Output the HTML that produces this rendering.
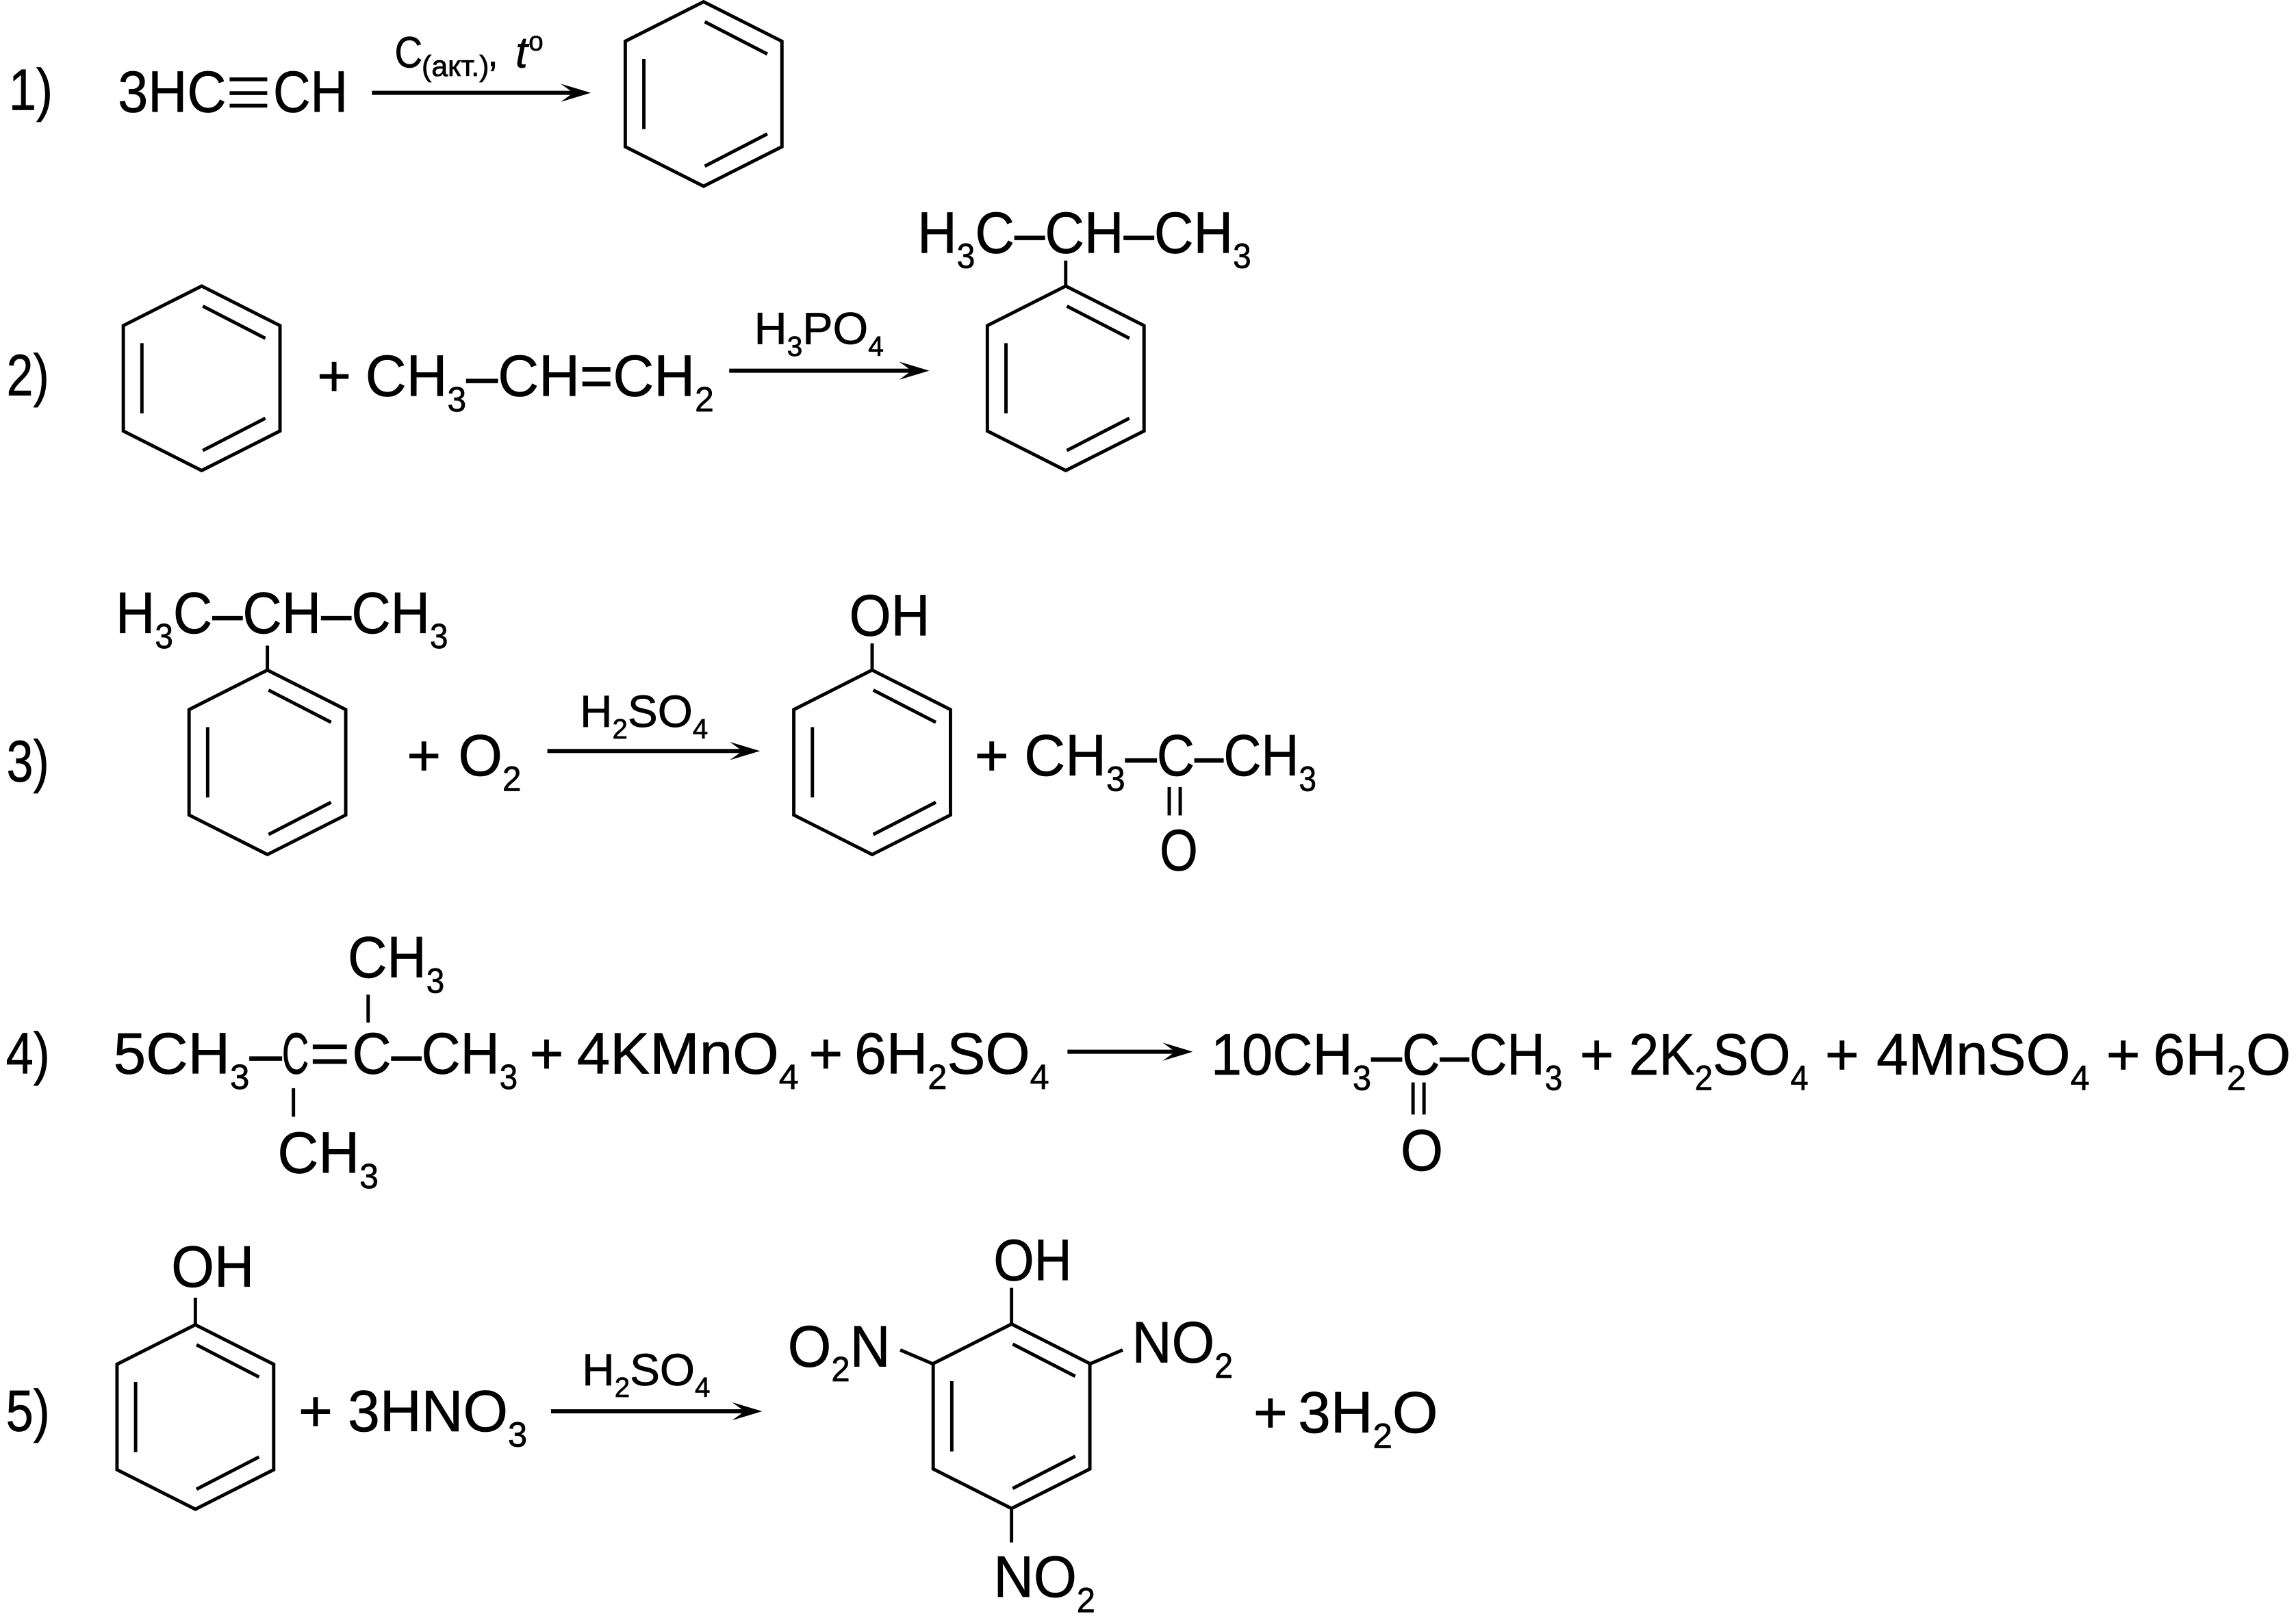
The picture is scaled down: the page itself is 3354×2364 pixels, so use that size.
<!DOCTYPE html>
<html>
<head>
<meta charset="utf-8">
<style>
  html, body { margin: 0; padding: 0; background: #ffffff; }
  svg { display: block; }
  text { font-family: "Liberation Sans", "DejaVu Sans", sans-serif; fill: #000; stroke: #000; stroke-width: 0.35px; }
  .m { font-size: 40px; }
  .s { font-size: 31px; }
</style>
</head>
<body>
<svg xmlns="http://www.w3.org/2000/svg" width="3354" height="2364" viewBox="0 0 1568 1105.2">
  <defs>
    <g id="bz" fill="none" stroke="#000" stroke-width="2.3" stroke-linejoin="miter">
      <polygon points="0,-63 53.5,-36 53.5,36 0,63 -53.5,36 -53.5,-36"/>
      <line x1="0.8" y1="-49.3" x2="43.5" y2="-27.3"/>
      <line x1="0.8" y1="49.3" x2="43.5" y2="27.3"/>
      <line x1="-40.8" y1="-24" x2="-40.8" y2="24"/>
    </g>
  </defs>
  <rect x="0" y="0" width="1568" height="1105.2" fill="#fff"/>

  <g stroke="#000" stroke-width="2.8" fill="none">
    <line x1="254" y1="63.4" x2="392" y2="63.4"/>
    <line x1="498" y1="253.2" x2="623" y2="253.2"/>
    <line x1="373.8" y1="513" x2="507.5" y2="513"/>
    <line x1="729" y1="718.4" x2="803" y2="718.4"/>
    <line x1="376.3" y1="964" x2="509" y2="964"/>
  </g>
  <g fill="#000">
    <path d="M403.5,63.4 L382.9,57.2 L391.5,63.4 L382.9,69.6 Z"/>
    <path d="M634.6,253.2 L614,247 L622.6,253.2 L614,259.4 Z"/>
    <path d="M519,513 L498.4,506.8 L507,513 L498.4,519.2 Z"/>
    <path d="M814.6,718.4 L794,712.2 L802.6,718.4 L794,724.6 Z"/>
    <path d="M520.5,964 L499.9,957.8 L508.5,964 L499.9,970.2 Z"/>
  </g>

  <use href="#bz" x="480.5" y="64.2"/>
  <use href="#bz" x="137.7" y="258.4"/>
  <use href="#bz" x="727.8" y="258.4"/>
  <use href="#bz" x="182.6" y="520.7"/>
  <use href="#bz" x="595.6" y="520.7"/>
  <use href="#bz" x="133.4" y="967.9"/>
  <use href="#bz" x="690.8" y="967.4"/>

  <g stroke="#000" stroke-width="2.3" fill="none">
    <line x1="727.8" y1="195.4" x2="727.8" y2="178"/>
    <line x1="182.6" y1="457.7" x2="182.6" y2="441"/>
    <line x1="595.6" y1="457.7" x2="595.6" y2="439.5"/>
    <line x1="798.5" y1="537.6" x2="798.5" y2="557"/>
    <line x1="806" y1="537.6" x2="806" y2="557"/>
    <line x1="200.4" y1="743.3" x2="200.4" y2="762.8"/>
    <line x1="251.4" y1="679.4" x2="251.4" y2="698.5"/>
    <line x1="965" y1="739.4" x2="965" y2="761.3"/>
    <line x1="972.5" y1="739.4" x2="972.5" y2="761.3"/>
    <line x1="133.4" y1="904.9" x2="133.4" y2="886.4"/>
    <line x1="690.8" y1="904.4" x2="690.8" y2="879.7"/>
    <line x1="636.6" y1="931.4" x2="614.8" y2="922.1"/>
    <line x1="744.9" y1="931.4" x2="766.7" y2="922.1"/>
    <line x1="690.8" y1="1030.4" x2="690.8" y2="1053.6"/>
  </g>
  <g fill="#000">
    <rect x="156.8" y="52.9" width="25.7" height="2.6"/>
    <rect x="156.8" y="62.3" width="25.7" height="2.6"/>
    <rect x="156.8" y="70.9" width="25.7" height="2.6"/>
  </g>

  <text class="m" x="6" y="75" textLength="30" lengthAdjust="spacingAndGlyphs">1)</text>
  <text class="m" x="80.5" y="76.4" textLength="74" lengthAdjust="spacingAndGlyphs">3HC</text>
  <text class="m" x="186.5" y="76.4" textLength="51" lengthAdjust="spacingAndGlyphs">CH</text>
  <text x="269.5" y="46" font-size="30" textLength="19" lengthAdjust="spacingAndGlyphs">C</text>
  <text x="288" y="52" font-size="20" textLength="46" lengthAdjust="spacingAndGlyphs">(акт.)</text>
  <text x="333" y="45" font-size="26">,</text>
  <text x="352" y="46" font-size="30" font-style="italic">t</text>
  <text x="361" y="34.3" font-size="18">o</text>

  <text class="m" x="4.5" y="270" textLength="29" lengthAdjust="spacingAndGlyphs">2)</text>
  <text class="m" x="228.2" y="270.4" text-anchor="middle">+</text>
  <text class="m" x="249.5" y="270.4" textLength="238" lengthAdjust="spacingAndGlyphs">CH<tspan dy="10.5" font-size="24">3</tspan><tspan dy="-10.5">–CH=CH</tspan><tspan dy="10.5" font-size="24">2</tspan></text>
  <text class="s" x="515" y="235" textLength="88.5" lengthAdjust="spacingAndGlyphs">H<tspan dy="8" font-size="19">3</tspan><tspan dy="-8">PO</tspan><tspan dy="8" font-size="19">4</tspan></text>
  <text class="m" x="626.5" y="172.7" textLength="228" lengthAdjust="spacingAndGlyphs">H<tspan dy="10.4" font-size="24">3</tspan><tspan dy="-10.4">C–CH–CH</tspan><tspan dy="10.4" font-size="24">3</tspan></text>

  <text class="m" x="4.5" y="533.7" textLength="29" lengthAdjust="spacingAndGlyphs">3)</text>
  <text class="m" x="79" y="432.4" textLength="227" lengthAdjust="spacingAndGlyphs">H<tspan dy="10.4" font-size="24">3</tspan><tspan dy="-10.4">C–CH–CH</tspan><tspan dy="10.4" font-size="24">3</tspan></text>
  <text class="m" x="289.5" y="529.8" text-anchor="middle">+</text>
  <text class="m" x="313" y="529.8" textLength="43" lengthAdjust="spacingAndGlyphs">O<tspan dy="10.5" font-size="24">2</tspan></text>
  <text class="s" x="396" y="496.4" textLength="87.5" lengthAdjust="spacingAndGlyphs">H<tspan dy="8" font-size="19">2</tspan><tspan dy="-8">SO</tspan><tspan dy="8" font-size="19">4</tspan></text>
  <text class="m" x="580" y="434" textLength="55" lengthAdjust="spacingAndGlyphs">OH</text>
  <text class="m" x="677.3" y="529.8" text-anchor="middle">+</text>
  <text class="m" x="699.5" y="529.8" textLength="90.5" lengthAdjust="spacingAndGlyphs">CH<tspan dy="10.5" font-size="24">3</tspan><tspan dy="-10.5">–</tspan></text>
  <text class="m" x="790" y="529.8" textLength="109" lengthAdjust="spacingAndGlyphs">C–CH<tspan dy="10.5" font-size="24">3</tspan></text>
  <text class="m" x="792" y="594.5" textLength="26" lengthAdjust="spacingAndGlyphs">O</text>

  <text class="m" x="4" y="733.2" textLength="30" lengthAdjust="spacingAndGlyphs">4)</text>
  <text class="m" x="77.5" y="733.2" textLength="115" lengthAdjust="spacingAndGlyphs">5CH<tspan dy="10.5" font-size="24">3</tspan><tspan dy="-10.5">–</tspan></text>
  <text class="m" x="192.5" y="733.2" textLength="18.5" lengthAdjust="spacingAndGlyphs">C</text>
  <text class="m" x="211.5" y="733.2" textLength="27.5" lengthAdjust="spacingAndGlyphs">=</text>
  <text class="m" x="240.5" y="733.2" textLength="113" lengthAdjust="spacingAndGlyphs">C–CH<tspan dy="10.5" font-size="24">3</tspan></text>
  <text class="m" x="237.5" y="667.7" textLength="66" lengthAdjust="spacingAndGlyphs">CH<tspan dy="10.5" font-size="24">3</tspan></text>
  <text class="m" x="189.5" y="801" textLength="69" lengthAdjust="spacingAndGlyphs">CH<tspan dy="10.5" font-size="24">3</tspan></text>
  <text class="m" x="373.3" y="733.2" text-anchor="middle">+</text>
  <text class="m" x="394" y="733.2" textLength="151.5" lengthAdjust="spacingAndGlyphs">4KMnO<tspan dy="10.5" font-size="24">4</tspan></text>
  <text class="m" x="564" y="733.2" text-anchor="middle">+</text>
  <text class="m" x="583.5" y="733.2" textLength="133" lengthAdjust="spacingAndGlyphs">6H<tspan dy="10.5" font-size="24">2</tspan><tspan dy="-10.5">SO</tspan><tspan dy="10.5" font-size="24">4</tspan></text>
  <text class="m" x="827" y="734" textLength="130.5" lengthAdjust="spacingAndGlyphs">10CH<tspan dy="10.5" font-size="24">3</tspan><tspan dy="-10.5">–</tspan></text>
  <text class="m" x="957.5" y="734" textLength="109.5" lengthAdjust="spacingAndGlyphs">C–CH<tspan dy="10.5" font-size="24">3</tspan></text>
  <text class="m" x="956.5" y="799.4" textLength="29" lengthAdjust="spacingAndGlyphs">O</text>
  <text class="m" x="1090.5" y="734" text-anchor="middle">+</text>
  <text class="m" x="1112.5" y="734" textLength="122.5" lengthAdjust="spacingAndGlyphs">2K<tspan dy="10.5" font-size="24">2</tspan><tspan dy="-10.5">SO</tspan><tspan dy="10.5" font-size="24">4</tspan></text>
  <text class="m" x="1258" y="734" text-anchor="middle">+</text>
  <text class="m" x="1281.5" y="734" textLength="145.5" lengthAdjust="spacingAndGlyphs">4MnSO<tspan dy="10.5" font-size="24">4</tspan></text>
  <text class="m" x="1450" y="734" text-anchor="middle">+</text>
  <text class="m" x="1470.5" y="734" textLength="94" lengthAdjust="spacingAndGlyphs">6H<tspan dy="10.5" font-size="24">2</tspan><tspan dy="-10.5">O</tspan></text>

  <text class="m" x="4" y="977.4" textLength="30" lengthAdjust="spacingAndGlyphs">5)</text>
  <text class="m" x="117" y="878.9" textLength="56.5" lengthAdjust="spacingAndGlyphs">OH</text>
  <text class="m" x="215.5" y="977.6" text-anchor="middle">+</text>
  <text class="m" x="237.5" y="977.6" textLength="122.5" lengthAdjust="spacingAndGlyphs">3HNO<tspan dy="10.5" font-size="24">3</tspan></text>
  <text class="s" x="397.5" y="946.2" textLength="87.5" lengthAdjust="spacingAndGlyphs">H<tspan dy="8" font-size="19">2</tspan><tspan dy="-8">SO</tspan><tspan dy="8" font-size="19">4</tspan></text>
  <text class="m" x="678.5" y="874.5" textLength="53.5" lengthAdjust="spacingAndGlyphs">OH</text>
  <text class="m" x="538" y="933.5" textLength="70" lengthAdjust="spacingAndGlyphs">O<tspan dy="10" font-size="24">2</tspan><tspan dy="-10">N</tspan></text>
  <text class="m" x="773" y="930.5" textLength="69" lengthAdjust="spacingAndGlyphs">NO<tspan dy="10.5" font-size="24">2</tspan></text>
  <text class="m" x="678.5" y="1090.7" textLength="69.5" lengthAdjust="spacingAndGlyphs">NO<tspan dy="10.5" font-size="24">2</tspan></text>
  <text class="m" x="867.6" y="978.5" text-anchor="middle">+</text>
  <text class="m" x="886.5" y="978.5" textLength="95.5" lengthAdjust="spacingAndGlyphs">3H<tspan dy="10.5" font-size="24">2</tspan><tspan dy="-10.5">O</tspan></text>
</svg>
</body>
</html>
